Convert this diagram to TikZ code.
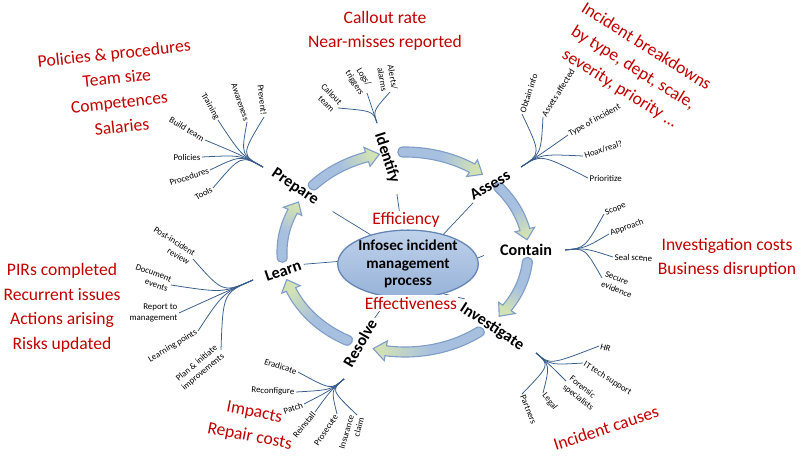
\documentclass[tikz,border=0pt]{standalone}
\usepackage{fontspec}
\setmainfont{Carlito}
\usepackage{tikz}
\usetikzlibrary{shapes.geometric}

\definecolor{kpired}{RGB}{192,0,0}
\definecolor{twigblue}{RGB}{56,93,138}
\definecolor{ringblue}{RGB}{168,192,224}
\definecolor{ringgreen}{RGB}{210,226,180}
\definecolor{ringedge}{RGB}{128,158,200}
\definecolor{hubtop}{RGB}{192,210,235}
\definecolor{hubbottom}{RGB}{150,178,216}
\definecolor{hubedge}{RGB}{100,132,180}

\tikzset{
	stage/.style={font=\fontsize{11.5}{13}\selectfont\bfseries, inner sep=1pt},
	kpi/.style={font=\fontsize{12.5}{17.5}\selectfont, text=kpired, align=center, inner sep=1pt},
	twiglabel/.style={font=\fontsize{6.3}{7.6}\selectfont, inner sep=1pt},
	twig/.style={draw=twigblue, line width=0.55pt},
	spoke/.style={draw=twigblue, line width=0.5pt},
	ringband/.style={draw=ringedge, line width=0.8pt, left color=ringblue, right color=ringgreen, middle color=ringblue},
	hubnode/.style={ellipse, draw=hubedge, line width=0.9pt, top color=hubtop, bottom color=hubbottom,
		minimum width=3.45cm, minimum height=1.63cm, inner sep=0pt, align=center,
		font=\fontsize{10.8}{12.4}\selectfont\bfseries}
}

% curved block arrow on the cycle: tail angle, head angle
\newcommand{\ringarrow}[2]{%
	\pgfmathsetmacro{\rgHead}{#2-6}%
	\pgfmathsetmacro{\rgBx}{123*sin(#1)}%
	\pgfmathsetmacro{\rgBy}{-100*cos(#1)}%
	\pgfmathsetmacro{\rgBn}{veclen(\rgBx,\rgBy)}%
	\pgfmathsetmacro{\rgCx}{6.7*\rgBx/\rgBn}%
	\pgfmathsetmacro{\rgCy}{6.7*\rgBy/\rgBn}%
	\pgfmathsetmacro{\rgShade}{90+atan2(-100*(sin(#2)-sin(#1)),123*(cos(#2)-cos(#1)))}%
	\shadedraw[ringband, shading angle=\rgShade]
		plot[domain=#1:\rgHead, samples=30] ({405+128*cos(\x)},{252+105*sin(\x)})
		-- ({405+133*cos(\rgHead)},{252+110*sin(\rgHead)})
		-- ({405+123*cos(#2)},{252+100*sin(#2)})
		-- ({405+113*cos(\rgHead)},{252+90*sin(\rgHead)})
		-- plot[domain=\rgHead:#1, samples=30] ({405+118*cos(\x)},{252+95*sin(\x)})
		.. controls +(\rgCx,\rgCy) and +(\rgCx,\rgCy) .. ({405+128*cos(#1)},{252+105*sin(#1)})
		-- cycle;
}

\begin{document}
\begin{tikzpicture}[x=0.025cm, y=-0.025cm]
	\useasboundingbox (0,0) rectangle (800,459);

	%cycle arrows
	\ringarrow{-138}{-102}
	\ringarrow{-91}{-51}
	\ringarrow{-40}{-7}
	\ringarrow{6}{40}
	\ringarrow{53}{105}
	\ringarrow{118}{164}
	\ringarrow{177}{210}

	%centre
	\node[hubnode] (hub) at (408,264) {Infosec incident\\management\\process};

	%stages
	\node[stage, rotate=-34] (prepare) at (295,187) {Prepare};
	\node[stage, rotate=-72] (identify) at (387,158) {Identify};
	\node[stage, rotate=30] (assess) at (490,185) {Assess};
	\node[stage] (contain) at (526,250) {Contain};
	\node[stage, rotate=-33] (investigate) at (492,327) {Investigate};
	\node[stage, rotate=60] (resolve) at (360,343) {Resolve};
	\node[stage, rotate=19] (learn) at (283,271) {Learn};

	%spokes to centre
	\draw[spoke, shorten <=12pt] (prepare.east) -- (hub.142);
	\draw[spoke, shorten <=7pt] (identify.east) -- (hub.100);
	\draw[spoke] (assess.south west) -- (hub.40);
	\draw[spoke, shorten <=11pt] (contain.west) -- (hub.5);
	\draw[spoke] (investigate.north west) -- (hub.-40);
	\draw[spoke, shorten <=1pt] (resolve.east) -- (hub.-119);
	\draw[spoke, shorten <=1pt] (learn.east) -- (hub.178);

	%prepare fan
	\coordinate (prephub) at (263,167);
	\node[twiglabel, anchor=east, rotate=-84] (prevent) at (264,117) {Prevent!};
	\node[twiglabel, anchor=east, rotate=-71] (awareness) at (247,122) {Awareness};
	\node[twiglabel, anchor=east, rotate=-60] (training) at (218,120) {Training};
	\node[twiglabel, anchor=east, rotate=-31] (buildteam) at (205,140) {Build team};
	\node[twiglabel, anchor=east] (policies) at (202,157) {Policies};
	\node[twiglabel, anchor=east, rotate=18] (procedures) at (210,170) {Procedures};
	\node[twiglabel, anchor=east, rotate=30] (tools) at (213,188) {Tools};
	\foreach \leaf in {prevent,awareness,training,buildteam,policies,procedures,tools}
		\draw[twig] (prephub) .. controls +(-22,-12) .. (\leaf.east);

	%identify fan
	\coordinate (identhub) at (377,123);
	\node[twiglabel, anchor=east, rotate=-80, align=right] (alerts) at (390,92) {Alerts/\\alarms};
	\node[twiglabel, anchor=east, rotate=-58, align=center] (logs) at (367,93) {Logs/\\triggers};
	\node[twiglabel, anchor=east, rotate=-45, align=right] (callout) at (338,108) {Callout\\team};
	\foreach \leaf in {alerts,logs,callout}
		\draw[twig] (identhub) .. controls +(-4,-12) .. (\leaf.east);

	%assess fan
	\coordinate (assesshub) at (521,167);
	\node[twiglabel, anchor=west, rotate=72] (obtain) at (522,114) {Obtain info};
	\node[twiglabel, anchor=west, rotate=58] (assets) at (543,117) {Assets affected};
	\node[twiglabel, anchor=west, rotate=29] (incidenttype) at (568,135) {Type of incident};
	\node[twiglabel, anchor=west, rotate=18] (hoax) at (583,156) {Hoax/real?};
	\node[twiglabel, anchor=west] (prioritize) at (588,178) {Prioritize};
	\foreach \leaf in {obtain,assets,incidenttype,hoax,prioritize}
		\draw[twig] (assesshub) .. controls +(20,-13) .. (\leaf.west);

	%contain fan
	\coordinate (containhub) at (565,250);
	\node[twiglabel, anchor=west, rotate=22] (scope) at (604,214) {Scope};
	\node[twiglabel, anchor=west, rotate=20] (approach) at (609,234) {Approach};
	\node[twiglabel, anchor=west, rotate=-2] (sealscene) at (613,257) {Seal scene};
	\node[twiglabel, anchor=west, rotate=-22, align=left] (secure) at (602,278) {Secure\\evidence};
	\foreach \leaf in {scope,approach,sealscene,secure}
		\draw[twig] (containhub) .. controls +(20,-2) .. (\leaf.west);

	%investigate fan
	\coordinate (investhub) at (536,353);
	\node[twiglabel, anchor=west, rotate=-15] (hr) at (599,346) {HR};
	\node[twiglabel, anchor=west, rotate=-32] (ittech) at (583,363) {IT tech support};
	\node[twiglabel, anchor=west, rotate=-39, align=left] (forensic) at (566,381) {Forensic\\specialists};
	\node[twiglabel, anchor=west, rotate=-52] (legal) at (543,393) {Legal};
	\node[twiglabel, anchor=west, rotate=-68] (partners) at (522,394) {Partners};
	\foreach \leaf in {hr,ittech,forensic,legal,partners}
		\draw[twig] (investhub) .. controls +(14,12) .. (\leaf.west);

	%resolve fan
	\coordinate (resolvehub) at (344,379);
	\node[twiglabel, anchor=east, rotate=-18] (eradicate) at (298,372) {Eradicate};
	\node[twiglabel, anchor=east, rotate=-2] (reconfigure) at (296,392) {Reconfigure};
	\node[twiglabel, anchor=east, rotate=20] (patch) at (304,404) {Patch};
	\node[twiglabel, anchor=east, rotate=50] (reinstall) at (315,412) {Reinstall};
	\node[twiglabel, anchor=east, rotate=56] (prosecute) at (337,414) {Prosecute};
	\node[twiglabel, anchor=east, rotate=74, align=right] (insurance) at (357,415) {Insurance\\claim};
	\foreach \leaf in {eradicate,reconfigure,patch,reinstall,prosecute,insurance}
		\draw[twig] (resolvehub) .. controls +(-13,11) .. (\leaf.east);

	%learn fan
	\coordinate (learnhub) at (253,280);
	\node[twiglabel, anchor=east, rotate=-32, align=right] (postincident) at (193,259) {Post-incident\\review};
	\node[twiglabel, anchor=east, rotate=-20, align=right] (document) at (171,285) {Document\\events};
	\node[twiglabel, anchor=east, align=right] (report) at (179,313) {Report to\\management};
	\node[twiglabel, anchor=east, rotate=31] (learningpts) at (198,331) {Learning points};
	\node[twiglabel, anchor=east, rotate=40, align=right] (planimprove) at (221,350) {Plan \& initiate\\improvements};
	\foreach \leaf in {postincident,document,report,learningpts,planimprove}
		\draw[twig] (learnhub) .. controls +(-30,13) .. (\leaf.east);

	%measures
	\node[kpi, rotate=6] (prepkpi) at (118,90) {Policies \& procedures\\Team size\\Competences\\Salaries};
	\node[kpi] (identkpi) at (385,31) {Callout rate\\Near-misses reported};
	\node[kpi, rotate=-32] (assesskpi) at (633,68) {Incident breakdowns\\by type, dept, scale,\\severity, priority ...};
	\node[kpi] (containkpi) at (727,258) {Investigation costs\\Business disruption};
	\node[kpi, rotate=18] (investkpi) at (606,428) {Incident causes};
	\node[kpi, rotate=-11] (resolvekpi) at (252,425) {Impacts\\Repair costs};
	\node[kpi] (learnkpi) at (62,308) {PIRs completed\\Recurrent issues\\Actions arising\\Risks updated};
	\node[kpi, fill=white] (effic) at (406,220) {Efficiency};
	\node[kpi, fill=white] (effect) at (411,303) {Effectiveness};
\end{tikzpicture}
\end{document}
